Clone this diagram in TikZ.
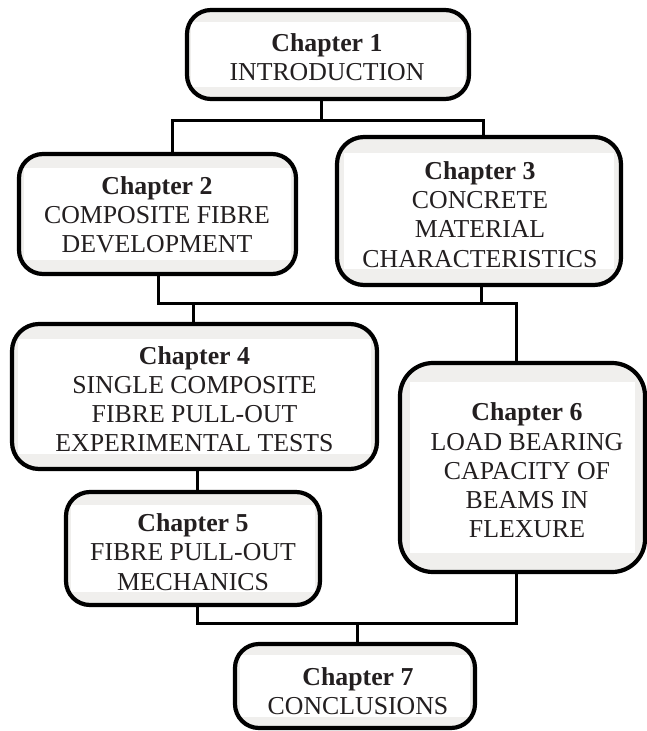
\documentclass[tikz,border=0pt]{standalone}
\usepackage{fontspec}
\setmainfont{Liberation Serif}
\definecolor{bandgray}{RGB}{240,239,237}
\definecolor{txtgray}{RGB}{35,31,32}
\tikzset{
  chapbox/.style={rectangle, draw=black, line width=4.2pt, fill=bandgray,
    rounded corners=24pt, inner sep=0pt},
  inset/.style 2 args={path picture={\fill[white, sharp corners]
    ([xshift=#1,yshift=-#2]path picture bounding box.north west) rectangle
    ([xshift=-#1,yshift=#2]path picture bounding box.south east);}},
  chaptext/.style={align=center, inner sep=0pt, text=txtgray,
    font=\fontsize{25.8}{29.2}\selectfont},
  link/.style={draw=black, line width=3pt},
}
\begin{document}
\begin{tikzpicture}[x=1pt,y=-1pt]
\useasboundingbox (0,0) rectangle (647,731);
% boxes
\node[chapbox, inset={4pt}{12pt}, minimum width=282pt, minimum height=89pt] (c1) at (328,54.5) {};
\node[chapbox, inset={5pt}{14pt}, minimum width=277pt, minimum height=120pt] (c2) at (157.5,214) {};
\node[chapbox, inset={7pt}{16pt}, rounded corners=27pt, minimum width=284pt, minimum height=148pt] (c3) at (479,211) {};
\node[chapbox, inset={6pt}{15pt}, rounded corners=27pt, minimum width=365pt, minimum height=145pt] (c4) at (194.5,396.5) {};
\node[chapbox, inset={5pt}{13pt}, minimum width=254pt, minimum height=113pt] (c5) at (193,548.5) {};
\node[chapbox, inset={10pt}{19pt}, rounded corners=33pt, minimum width=245pt, minimum height=209pt] (c6) at (522.5,467.5) {};
\node[chapbox, inset={5pt}{11pt}, minimum width=240pt, minimum height=84pt] (c7) at (355,686) {};
% texts
\node[chaptext] (t1) at (327,57.5) {\textbf{Chapter 1}\\INTRODUCTION};
\node[chaptext] (t2) at (157,215) {\textbf{Chapter 2}\\COMPOSITE FIBRE\\DEVELOPMENT};
\node[chaptext] (t3) at (480,214.5) {\textbf{Chapter 3}\\CONCRETE\\MATERIAL\\CHARACTERISTICS};
\node[chaptext] (t4) at (194.5,399) {\textbf{Chapter 4}\\SINGLE COMPOSITE\\FIBRE PULL-OUT\\EXPERIMENTAL TESTS};
\node[chaptext] (t5) at (193,552) {\textbf{Chapter 5}\\FIBRE PULL-OUT\\MECHANICS};
\node[chaptext] (t6) at (527,470.4) {\textbf{Chapter 6}\\LOAD BEARING\\CAPACITY OF\\BEAMS IN\\FLEXURE};
\node[chaptext] (t7) at (358,691) {\textbf{Chapter 7}\\CONCLUSIONS};
% connectors
\coordinate (j1) at (321,120);
\coordinate (j2) at (193.5,303.5);
\coordinate (j3) at (357.5,623);
\draw[link] (c1.south -| j1) -- (j1);
\draw[link] (c2.north -| 172.5,0) |- (j1) -| (c3.north -| 483.5,0);
\draw[link] (c2.south -| 158.5,0) |- (j2) -| (c6.north -| 516.5,0);
\draw[link] (c3.south -| 481,0) |- (j2);
\draw[link] (j2) -- (c4.north -| j2);
\draw[link] (c4.south -| 197.5,0) -- (c5.north -| 197.5,0);
\draw[link] (c5.south -| 197.5,0) |- (j3) -| (c6.south -| 516.5,0);
\draw[link] (j3) -- (c7.north -| j3);
\end{tikzpicture}
\end{document}
